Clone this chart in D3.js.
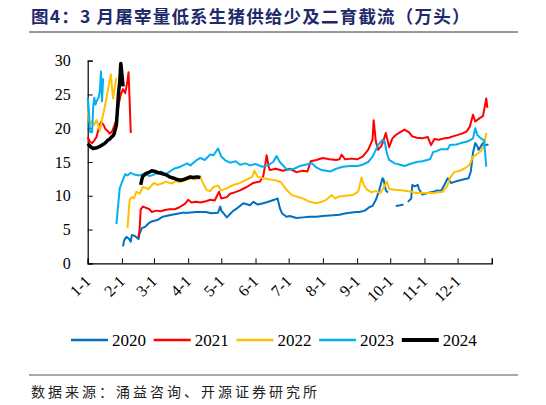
<!DOCTYPE html>
<html>
<head>
<meta charset="utf-8">
<script src="https://cdn.jsdelivr.net/npm/d3@7"></script>
<style>
  html, body { margin: 0; padding: 0; background: #fff; }
  svg { display: block; }
</style>
</head>
<body>
<svg id="chart" width="546" height="405"></svg>
<script>
// month labels on the x axis (Excel style, month-day)
const monthLabels = ["1-1", "2-1", "3-1", "4-1", "5-1", "6-1", "7-1", "8-1", "9-1", "10-1", "11-1", "12-1"]
const yTicks = [0, 5, 10, 15, 20, 25, 30]
const years = ["2020", "2021", "2022", "2023", "2024"]

// daily slaughter, [month-day, value]; null = no data (gap)
const s2020 = [
  ["02-02", 2.5], ["02-03", 3.4], ["02-05", 3.9], ["02-07", 3.7], ["02-09", 3.2], ["02-10", 4.2],
  ["02-12", 4.1], ["02-14", 3.9], ["02-16", 3.6], ["02-17", 4.4], ["02-19", 5.2], ["02-22", 5.4],
  ["02-25", 5.9], ["02-28", 6.2], ["03-04", 6.4], ["03-09", 6.9], ["03-15", 7.1], ["03-21", 7.3],
  ["03-27", 7.5], ["04-01", 7.5], ["04-08", 7.6], ["04-17", 7.6], ["04-22", 7.4], ["04-28", 7.5],
  ["04-30", 8.4], ["05-01", 7.8], ["05-04", 7.2], ["05-06", 6.8], ["05-09", 7.3], ["05-12", 7.8],
  ["05-15", 8.1], ["05-21", 8.9], ["05-27", 8.6], ["05-30", 9.1], ["06-03", 8.7], ["06-08", 8.9],
  ["06-14", 9.2], ["06-18", 9.4], ["06-21", 9.6], ["06-23", 8.2], ["06-25", 7.4], ["06-29", 6.9],
  ["07-02", 7.0], ["07-08", 6.7], ["07-14", 6.8], ["07-20", 6.9], ["07-26", 6.9], ["08-01", 7.0],
  ["08-10", 7.1], ["08-16", 7.2], ["08-22", 7.4], ["08-31", 7.6], ["09-03", 7.6], ["09-08", 7.8],
  ["09-12", 8.3], ["09-15", 8.5], ["09-18", 9.4], ["09-21", 10.8], ["09-24", 12.6], ["09-25", 12.4],
  ["09-27", 10.8], ["09-29", 10.5], ["10-01", null],
  ["10-06", 8.5], ["10-10", 8.6], ["10-13", 8.7], ["10-15", null],
  ["10-17", 9.1], ["10-20", 9.6], ["10-21", 11.6], ["10-23", 11.4], ["10-26", 11.6], ["10-27", 11.0],
  ["10-30", 10.2], ["11-04", 10.4], ["11-09", 10.6], ["11-13", 10.8], ["11-16", 10.7], ["11-19", 11.6],
  ["11-22", 12.6], ["11-25", 11.9], ["11-29", 12.1], ["12-06", 12.4], ["12-11", 12.6], ["12-13", 13.6],
  ["12-15", 16.4], ["12-17", 17.8], ["12-19", 17.3], ["12-20", 16.8], ["12-24", 17.8], ["12-26", 17.5],
  ["12-29", 17.6]
]

const s2021 = [
  ["01-01", 18.7], ["01-03", 18.0], ["01-05", 17.8], ["01-07", 18.2], ["01-09", 18.7], ["01-11", 20.0],
  ["01-13", 20.9], ["01-15", 20.6], ["01-17", 19.9], ["01-19", 19.6], ["01-21", 19.2], ["01-23", 19.5],
  ["01-25", 20.3], ["01-27", 21.3], ["01-29", 23.5], ["01-31", 25.0], ["02-02", 25.8], ["02-04", 25.2],
  ["02-06", 27.0], ["02-07", 28.3], ["02-08", 24.0], ["02-09", 19.3], ["02-12", null],
  ["02-16", 3.8], ["02-17", 5.0], ["02-18", 8.0], ["02-20", 8.4], ["02-23", 8.2], ["02-26", 8.0],
  ["02-28", 7.6], ["03-03", 7.8], ["03-07", 7.7], ["03-11", 7.9], ["03-15", 8.0], ["03-20", 8.0],
  ["03-24", 8.3], ["03-29", 8.8], ["04-01", 9.4], ["04-04", 9.0], ["04-08", 9.1], ["04-12", 9.0],
  ["04-17", 9.2], ["04-21", 9.4], ["04-25", 9.3], ["04-29", 10.6], ["05-01", 9.6], ["05-06", 9.8],
  ["05-09", 10.3], ["05-13", 10.5], ["05-18", 10.8], ["05-24", 11.3], ["05-30", 11.9], ["06-05", 12.1],
  ["06-08", 12.9], ["06-10", 14.8], ["06-11", 16.0], ["06-13", 14.3], ["06-14", 13.8], ["06-19", 14.0],
  ["06-26", 13.7], ["07-02", 14.0], ["07-08", 13.5], ["07-14", 13.7], ["07-18", 13.6], ["07-21", 15.1],
  ["07-26", 15.3], ["08-01", 15.6], ["08-07", 15.4], ["08-13", 15.3], ["08-16", 15.4], ["08-18", 16.1],
  ["08-21", 15.4], ["08-27", 15.5], ["09-01", 15.4], ["09-06", 15.8], ["09-11", 16.8], ["09-15", 18.3],
  ["09-16", 21.2], ["09-18", 18.0], ["09-20", 16.8], ["09-23", 17.4], ["09-25", 18.2], ["09-27", 19.3],
  ["09-30", 17.2], ["10-03", 18.5], ["10-06", 19.0], ["10-09", 19.3], ["10-14", 19.8], ["10-18", 19.4],
  ["10-21", 18.8], ["10-25", 18.6], ["10-30", 18.5], ["11-04", 18.7], ["11-07", 17.5], ["11-10", 18.4],
  ["11-14", 18.3], ["11-19", 18.5], ["11-23", 18.6], ["11-29", 18.9], ["12-05", 19.2], ["12-09", 19.5],
  ["12-12", 20.2], ["12-15", 22.0], ["12-17", 21.0], ["12-21", 21.5], ["12-24", 21.8], ["12-27", 24.4],
  ["12-28", 23.0]
]

const s2022 = [
  ["01-01", 22.5], ["01-02", 21.3], ["01-03", 20.8], ["01-05", 21.0], ["01-07", 20.5], ["01-09", 21.2],
  ["01-11", 20.2], ["01-12", 19.6], ["01-14", 21.3], ["01-16", 22.8], ["01-18", 24.5], ["01-20", 26.3],
  ["01-22", 28.0], ["01-23", 26.0], ["01-24", 24.4], ["01-25", 25.5], ["01-27", 27.5], ["01-30", null],
  ["02-06", 5.2], ["02-08", 9.4], ["02-10", 9.8], ["02-12", 9.6], ["02-14", 10.6], ["02-17", 10.3],
  ["02-20", 11.3], ["02-25", 11.0], ["03-01", 11.9], ["03-04", 11.6], ["03-08", 11.8], ["03-12", 12.1],
  ["03-17", 11.8], ["03-21", 12.2], ["03-24", 12.0], ["03-29", 12.3], ["04-04", 12.6], ["04-08", 12.4],
  ["04-12", 12.8], ["04-14", 12.0], ["04-18", 10.8], ["04-21", 10.7], ["04-24", 11.3], ["04-28", 11.5],
  ["05-01", 10.8], ["05-06", 11.1], ["05-09", 11.4], ["05-12", 11.6], ["05-18", 11.9], ["05-24", 12.4],
  ["05-29", 12.8], ["05-31", 13.7], ["06-03", 12.8], ["06-08", 12.6], ["06-14", 12.4], ["06-19", 12.3],
  ["06-24", 12.0], ["06-29", 10.9], ["07-04", 10.1], ["07-08", 9.9], ["07-14", 9.6], ["07-20", 9.1],
  ["07-26", 8.9], ["07-31", 9.1], ["08-04", 9.4], ["08-09", 10.1], ["08-12", 9.6], ["08-16", 9.9],
  ["08-22", 10.0], ["08-28", 10.1], ["09-02", 10.6], ["09-05", 12.7], ["09-07", 11.6], ["09-10", 10.9],
  ["09-14", 10.5], ["09-18", 10.7], ["09-22", 10.4], ["09-25", 11.2], ["09-28", 12.1], ["09-30", 11.0],
  ["10-05", 10.9], ["10-11", 10.8], ["10-20", 10.6], ["10-24", 10.4], ["10-30", 10.4], ["11-09", 10.4],
  ["11-18", 10.6], ["11-22", 11.6], ["11-24", 12.6], ["11-28", 13.5], ["12-03", 13.7], ["12-07", 14.0],
  ["12-12", 14.6], ["12-15", 15.8], ["12-18", 16.1], ["12-22", 16.6], ["12-25", 17.4], ["12-27", 19.3]
]

const s2023 = [
  ["01-01", 24.5], ["01-02", 22.9], ["01-03", 19.5], ["01-04", 19.4], ["01-05", 19.4], ["01-06", 23.3],
  ["01-07", 24.5], ["01-08", 23.5], ["01-09", 24.0], ["01-11", 24.6], ["01-12", 25.5], ["01-13", 28.4],
  ["01-14", 24.0], ["01-15", 27.4], ["01-20", null],
  ["01-27", 5.8], ["01-30", 11.1], ["02-01", 12.0], ["02-04", 13.2], ["02-06", 13.0], ["02-09", 13.4],
  ["02-13", 13.1], ["02-17", 13.0], ["02-22", 13.3], ["02-26", 12.9], ["03-02", 13.2], ["03-07", 13.6],
  ["03-12", 13.2], ["03-19", 14.0], ["03-25", 14.3], ["03-31", 14.8], ["04-03", 14.5], ["04-08", 15.2],
  ["04-12", 15.6], ["04-16", 15.3], ["04-21", 16.1], ["04-24", 16.0], ["04-28", 17.0], ["05-01", 15.8],
  ["05-05", 15.2], ["05-09", 14.9], ["05-14", 15.1], ["05-18", 14.6], ["05-23", 14.8], ["05-27", 14.5],
  ["06-01", 14.7], ["06-07", 14.3], ["06-12", 14.5], ["06-17", 15.0], ["06-20", 15.9], ["06-23", 15.0],
  ["06-27", 14.3], ["06-30", 13.8], ["07-06", 14.0], ["07-11", 14.4], ["07-16", 14.6], ["07-22", 14.8],
  ["07-26", 14.2], ["07-31", 13.8], ["08-08", 13.6], ["08-13", 14.0], ["08-19", 14.3], ["08-26", 14.4],
  ["09-01", 14.4], ["09-06", 14.6], ["09-11", 15.0], ["09-15", 15.8], ["09-18", 16.8], ["09-20", 17.5],
  ["09-24", 18.3], ["09-26", 18.0], ["09-28", 16.3], ["09-30", 15.3], ["10-05", 14.8], ["10-10", 14.6],
  ["10-14", 14.4], ["10-19", 14.7], ["10-25", 15.0], ["10-30", 15.1], ["11-06", 15.4], ["11-09", 16.5],
  ["11-12", 16.6], ["11-16", 16.9], ["11-22", 16.9], ["11-24", 17.5], ["11-30", 17.6], ["12-04", 17.8],
  ["12-09", 18.0], ["12-12", 18.2], ["12-15", 18.5], ["12-17", 20.0], ["12-19", 19.0], ["12-22", 18.5],
  ["12-25", 18.2], ["12-27", 14.3]
]

const s2024 = [
  ["01-01", 17.7], ["01-03", 17.4], ["01-04", 17.2], ["01-06", 17.0], ["01-09", 17.1], ["01-12", 17.3],
  ["01-14", 17.5], ["01-16", 17.7], ["01-18", 18.0], ["01-19", 18.2], ["01-21", 18.4], ["01-22", 18.6],
  ["01-24", 18.9], ["01-25", 19.2], ["01-26", 19.8], ["01-27", 20.5], ["01-28", 22.9], ["01-29", 25.4],
  ["01-30", 26.8], ["01-31", 29.6], ["02-01", 28.0], ["02-02", 26.2], ["02-08", null],
  ["02-18", 11.6], ["02-19", 12.4], ["02-20", 12.9], ["02-23", 13.3], ["02-26", 13.5], ["02-28", 13.7],
  ["03-02", 13.6], ["03-05", 13.4], ["03-08", 13.3], ["03-12", 13.1], ["03-15", 12.8], ["03-19", 12.6],
  ["03-22", 12.4], ["03-25", 12.3], ["03-28", 12.4], ["03-31", 12.6], ["04-03", 12.8], ["04-05", 12.7],
  ["04-09", 12.8], ["04-12", 12.7]
]

const seriesData = [s2020, s2021, s2022, s2023, s2024]
const colors = ["#0070C0", "#FF0000", "#FFC000", "#00B0F0", "#000000"]
const widths = [2, 2, 2, 2, 3.5]

const svg = d3.select("#chart")
const serif = "'Times New Roman', 'Liberation Serif', serif"
const cjk = "'Noto Sans CJK SC', sans-serif"

const plot = { left: 87.7, right: 491.8, top: 60.7, bottom: 263.3 }
const parse = d3.timeParse("%Y-%m-%d")
const toDate = (md) => parse("2020-" + md)

const xScale = d3.scaleTime()
  .domain([toDate("01-01"), parse("2021-01-01")])
  .range([plot.left, plot.right])

const yScale = d3.scaleLinear()
  .domain([0, 30])
  .range([plot.bottom, plot.top])

/**
 * Title and rules
 */
svg.append("text")
  .attr("x", 31)
  .attr("y", 23)
  .attr("font-family", cjk)
  .attr("font-weight", "bold")
  .attr("font-size", 17.5)
  .attr("letter-spacing", 1.2)
  .attr("fill", "#1F2A6B")
  .text("图4：3 月屠宰量低系生猪供给少及二育截流（万头）")

svg.append("line")
  .attr("x1", 29).attr("x2", 518)
  .attr("y1", 32).attr("y2", 32)
  .attr("stroke", "#333").attr("stroke-width", 1)

svg.append("line")
  .attr("x1", 29).attr("x2", 518)
  .attr("y1", 375).attr("y2", 375)
  .attr("stroke", "#555").attr("stroke-width", 1)

svg.append("text")
  .attr("x", 31)
  .attr("y", 397)
  .attr("font-family", cjk)
  .attr("font-size", 14)
  .attr("letter-spacing", 3)
  .attr("fill", "#222")
  .text("数据来源：涌益咨询、开源证券研究所")

/**
 * Axes
 */
const monthTicks = monthLabels.map((m, i) => toDate(String(i + 1).padStart(2, "0") + "-01"))
const allTicks = monthTicks.concat([parse("2021-01-01")])

const gx = svg.append("g")
  .attr("transform", `translate(0,${plot.bottom})`)
  .call(d3.axisBottom(xScale).tickValues(allTicks).tickSize(-5).tickFormat(""))
gx.select(".domain").attr("stroke", "#000").attr("stroke-width", 1.2)
gx.selectAll(".tick line").attr("stroke", "#000")

svg.append("g")
  .selectAll("text")
  .data(monthLabels)
  .join("text")
  .attr("transform", (d, i) => `translate(${xScale(monthTicks[i]) + 4},${plot.bottom + 19}) rotate(-45)`)
  .attr("text-anchor", "end")
  .attr("font-family", serif)
  .attr("font-size", 16)
  .attr("fill", "#000")
  .text((d) => d)

const gy = svg.append("g")
  .attr("transform", `translate(${plot.left},0)`)
  .call(d3.axisLeft(yScale).tickValues(yTicks).tickSize(-5).tickPadding(17))
gy.select(".domain").attr("stroke", "#000").attr("stroke-width", 1.2)
gy.selectAll(".tick line").attr("stroke", "#000")
gy.selectAll(".tick text")
  .attr("font-family", serif)
  .attr("font-size", 16)
  .attr("fill", "#000")

/**
 * Lines
 */
const line = d3.line()
  .defined((d) => d[1] != null)
  .x((d) => xScale(toDate(d[0])))
  .y((d) => yScale(d[1]))

svg.append("g")
  .selectAll("path")
  .data(seriesData)
  .join("path")
  .attr("fill", "none")
  .attr("stroke", (d, i) => colors[i])
  .attr("stroke-width", (d, i) => widths[i])
  .attr("stroke-linejoin", "round")
  .attr("d", line)

/**
 * Legend
 */
const legend = svg.append("g")
  .selectAll("g")
  .data(years)
  .join("g")
  .attr("transform", (d, i) => `translate(${71 + i * 82.7},340)`)

legend.append("line")
  .attr("x1", 0).attr("x2", 37)
  .attr("stroke", (d, i) => colors[i])
  .attr("stroke-width", (d, i) => widths[i] + 0.5)

legend.append("text")
  .attr("x", 41)
  .attr("y", 6)
  .attr("font-family", serif)
  .attr("font-size", 17)
  .attr("fill", "#000")
  .text((d) => d)
</script>
</body>
</html>
